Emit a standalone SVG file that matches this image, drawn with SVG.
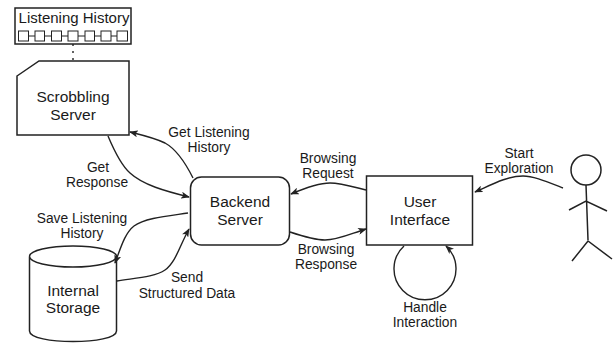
<svg xmlns="http://www.w3.org/2000/svg" width="614" height="343" viewBox="0 0 614 343">
<style>
text{font-family:"Liberation Sans",Arial,sans-serif;fill:#1a1a1a;text-anchor:middle}
.n{font-size:15.500px}
.l{font-size:13.800px}
.s{fill:#fff;stroke:#222;stroke-width:1.5}
.c{fill:none;stroke:#222;stroke-width:1.4}
</style>
<defs><marker id="a" viewBox="0 0 10 8" refX="9" refY="4" markerWidth="9" markerHeight="7" markerUnits="userSpaceOnUse" orient="auto"><path d="M0 0L10 4L0 8L2.5 4Z" fill="#222"/></marker></defs>
<rect width="614" height="343" fill="#fff"/>
<g id="listening-history">
<rect class="s" x="15" y="8" width="116" height="36"/>
<text x="74" y="23" style="font-size:15px">Listening History</text>
<path class="c" d="M28 36h7M44 36h7M61 36h7M78 36h7M94 36h7M111 36h6" style="stroke-width:1"/>
<g class="c" style="stroke-width:1"><rect x="18.500" y="31" width="10" height="10"/><rect x="35" y="31" width="9.500" height="10"/><rect x="51.500" y="31" width="10" height="10"/><rect x="68" y="31" width="10" height="10"/><rect x="85" y="31" width="9.500" height="10"/><rect x="101" y="31" width="10" height="10"/><rect x="117" y="31" width="10.500" height="10"/></g>
</g>
<g id="scrobbling-server">
<path class="s" d="M17 76L39 61H129V135H17Z"/>
<text class="n" x="73" y="102">Scrobbling</text><text class="n" x="73" y="120">Server</text>
</g>
<g id="backend-server">
<rect class="s" x="190.500" y="177" width="99" height="68" rx="11"/>
<text class="n" x="240" y="207">Backend</text><text class="n" x="240" y="225">Server</text>
</g>
<g id="internal-storage">
<path class="s" d="M29.500 257V331C29.500 345 116.500 345 116.500 331V257"/>
<ellipse class="s" cx="73" cy="256.500" rx="43.500" ry="10.500"/>
<text class="n" x="73" y="296">Internal</text><text class="n" x="73" y="313">Storage</text>
</g>
<g id="user-interface">
<rect class="s" x="366.500" y="176" width="106" height="69"/>
<text class="n" x="420" y="207">User</text><text class="n" x="420" y="225">Interface</text>
</g>
<g id="user" class="c" style="stroke-width:1.5">
<circle cx="586" cy="170" r="15"/>
<path d="M586 185L588 240M569 210L586 201L607 211M572 261L588 241L612 259"/>
</g>
<g id="connectors">
<path class="c" d="M73 44V60" stroke-dasharray="2 5"/>
<path class="c" marker-end="url(#a)" d="M193 178C184 160 176 149 165 143C155 138 142 135 130 132"/>
<path class="c" marker-end="url(#a)" d="M108 136C116 155 122 166 130 173C143 185 165 191 189 197"/>
<path class="c" marker-end="url(#a)" d="M188 213C168 216 145 218 134 226C125 233 121 247 115 263"/>
<path class="c" marker-end="url(#a)" d="M117 281C135 278 155 277 165 270C176 262 180 245 189 229"/>
<path class="c" marker-end="url(#a)" d="M366 190C350 186 340 183 330 183C318 183 305 188 291 194"/>
<path class="c" marker-end="url(#a)" d="M290 232C305 237 315 240 325 240C338 240 350 234 366 229"/>
<path class="c" marker-end="url(#a)" d="M563 188C545 181 533 176 523 176C507 176 491 185 475 192"/>
<path class="c" marker-end="url(#a)" d="M404 246A31 31 0 1 0 446 246"/>
</g>
<g id="labels">
<text class="l" x="209" y="137">Get Listening</text><text class="l" x="209" y="152">History</text>
<text class="l" x="98" y="172">Get</text><text class="l" x="97" y="187">Response</text>
<text class="l" x="82" y="223">Save Listening</text><text class="l" x="82" y="238">History</text>
<text class="l" x="187" y="282">Send</text><text class="l" x="187" y="298">Structured Data</text>
<text class="l" x="328" y="163">Browsing</text><text class="l" x="328" y="178">Request</text>
<text class="l" x="326" y="254">Browsing</text><text class="l" x="326" y="269">Response</text>
<text class="l" x="519" y="158">Start</text><text class="l" x="519" y="173">Exploration</text>
<text class="l" x="425" y="312">Handle</text><text class="l" x="425" y="327">Interaction</text>
</g>
</svg>
